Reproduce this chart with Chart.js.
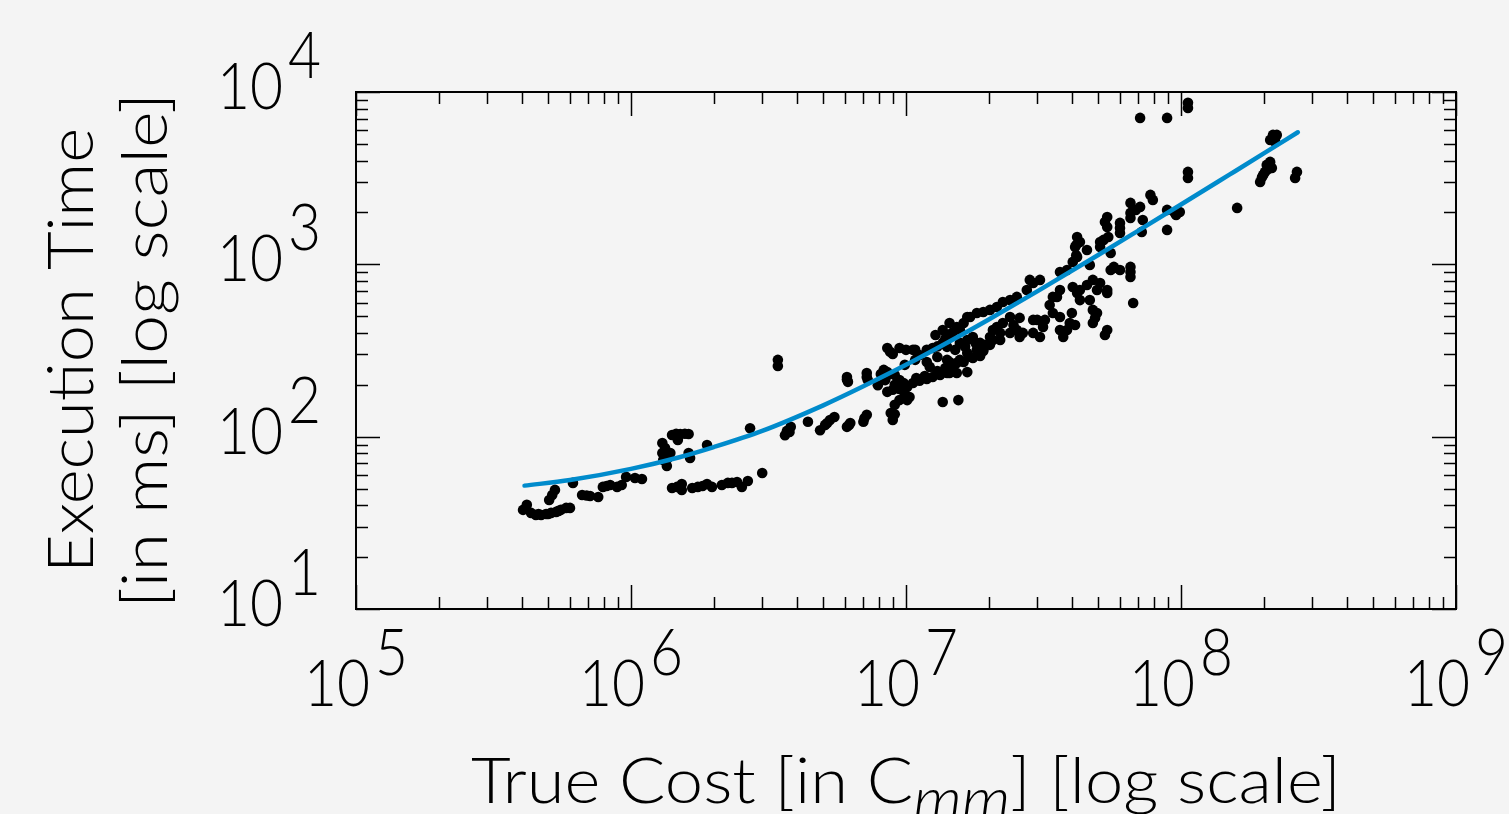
<!DOCTYPE html>
<html><head><meta charset="utf-8">
<script src="https://cdn.jsdelivr.net/npm/chart.js@4.4.1/dist/chart.umd.min.js"></script>
<style>html,body{margin:0;padding:0;background:#f4f4f4;}#wrap{width:1509px;height:814px;position:relative;}</style>
</head><body><div id="wrap"><canvas id="c" width="1509" height="814"></canvas></div>
<script>
// ---- data ----
const costValues = [
 4.05e5,4.18e5,4.33e5,4.51e5,4.71e5,4.91e5,5.12e5,5.34e5,5.56e5,5.81e5,6.0e5,5.17e5,5.29e5,5.04e5,6.15e5,
 6.64e5,7.1e5,7.6e5,7.9e5,8.4e5,8.9e5,9.25e5,9.6e5,1.034e6,1.096e6,
 1.30e6,1.30e6,1.31e6,1.35e6,1.41e6,1.51e6,1.62e6,1.39e6,1.62e6,1.64e6,1.89e6,1.48e6,
 1.41e6,1.53e6,1.53e6,1.67e6,1.75e6,1.89e6,1.97e6,2.14e6,2.25e6,2.43e6,2.53e6,2.66e6,3.0e6,
 2.71e6,3.42e6,3.42e6,3.69e6,3.81e6,3.63e6,4.40e6,4.87e6,5.08e6,5.29e6,5.49e6,6.1e6,6.27e6,7.0e6,7.2e6,8.95e6,9.1e6,
 6.1e6,6.15e6,7.2e6,7.26e6,8.55e6,8.4e6,
 8.55e6,8.95e6,9.47e6,1.08e7,1.12e7,1.19e7,1.25e7,1.36e7,1.42e7,1.67e7,
 8.55e6,8.95e6,9.47e6,1.01e7,1.06e7,1.12e7,1.19e7,1.25e7,1.33e7,1.41e7,1.53e7,1.67e7,1.01e7,1.03e7,1.36e7,1.55e7,8.8e6,9.47e6,8.3e6,8.1e6,1.44e7,
 1.19e7,1.22e7,1.41e7,1.44e7,1.53e7,1.62e7,1.75e7,1.86e7,1.91e7,1.06e7,1.41e7,1.57e7,1.75e7,1.86e7,1.91e7,2.02e7,
 1.44e7,1.47e7,1.53e7,1.62e7,1.71e7,1.81e7,1.91e7,2.02e7,2.14e7,2.25e7,2.39e7,2.53e7,2.75e7,2.90e7,3.07e7,3.63e7,3.85e7,
 2.14e7,2.25e7,2.39e7,2.39e7,2.53e7,2.66e7,2.90e7,3.0e7,3.15e7,3.07e7,3.42e7,3.63e7,3.63e7,3.73e7,4.01e7,3.94e7,3.85e7,
 3.54e7,3.63e7,4.04e7,4.29e7,4.55e7,4.78e7,5.08e7,4.95e7,5.39e7,5.55e7,5.7e7,6.55e7,6.55e7,6.7e7,4.78e7,4.78e7,5.39e7,
 2.90e7,2.82e7,3.42e7,4.19e7,2.07e7,2.59e7,1.67e7,1.91e7,1.44e7,1.67e7,5.39e7,4.95e7,
 4.19e7,4.12e7,4.19e7,4.04e7,5.08e7,5.23e7,5.39e7,5.39e7,5.44e7,5.55e7,6.0e7,6.0e7,6.55e7,6.55e7,7.1e7,7.26e7,7.74e7,7.9e7,
 8.9e7,8.9e7,9.5e7,6.55e7,7.2e7,9.6e7,9.9e7,5.7e7,6.55e7,6.0e7,4.29e7,4.66e7,5.08e7,4.55e7,
 7.1e7,8.9e7,1.06e8,1.06e8,1.06e8,1.06e8,1.60e8,2.16e8,2.23e8,2.11e8,2.20e8,2.11e8,2.05e8,1.99e8,1.94e8,2.02e8,2.64e8,2.60e8,2.14e8,
 5.17e6,3.77e6,6.21e6,7.06e6,6.1e6,7.2e6,8.5e6,1.33e6,1.36e6,1.57e6,1.46e6,
 1.0e7,8.75e6,1.30e7,1.39e7,9.1e6,9.8e6,1.09e7,1.17e7,1.30e7,1.39e7,1.49e7,1.57e7,1.71e7,1.81e7,1.95e7,2.07e7,2.20e7,2.46e7,2.59e7,
 9.1e6,9.47e6,9.9e6,1.28e7,1.36e7,1.57e7,4.16e7,4.16e7,5.29e7,4.87e7,5.29e7,2.20e8,2.07e8,1.97e8,6.85e7,
 4.61e5,5.0e5,5.45e5,6.9e5,8.15e5,1.47e6,1.82e6,2.33e6,
 9.9e6,1.08e7,1.30e7,1.51e7,1.64e7,1.79e7,2.02e7,2.20e7,3.33e7,3.2e7,4.12e7,4.29e7,4.66e7,6.0e7,9.1e6,7.9e6
];
const timeValues = [
 37.6,40.2,36.1,35.1,35.1,35.6,36.1,36.6,37.6,38.6,38.6,45.9,49.1,42.9,53.9,
 45.9,45.3,44.7,51.1,52.4,51.1,52.4,58.4,57.6,56.8,
 91.9,80.4,73.3,67.6,102.3,103.7,103.7,80.4,80.4,75.2,89.5,95.7,
 50.4,53.1,49.1,50.4,51.1,53.1,51.1,52.4,53.9,54.6,51.1,55.3,61.6,
 112,279,257,108,114,102,122,109,117,125,130,114,120,122,134,125,135,
 222,208,234,213,237,213,
 327,302,327,319,298,319,327,350,389,364,
 182,187,189,194,205,211,216,222,228,234,234,237,163,170,159,163,137,213,244,231,234,
 271,254,279,271,268,271,286,294,314,319,332,350,379,350,327,379,
 457,400,433,457,495,522,529,544,566,605,621,647,710,780,812,903,928,
 433,457,495,400,416,400,400,476,433,379,522,495,416,379,522,457,416,
 647,710,739,710,759,812,780,710,682,928,966,966,845,597,544,457,416,
 476,812,647,682,416,379,306,319,379,495,710,522,
 1442,1262,1104,1033,1262,1386,1884,1648,1442,1165,1739,1521,2272,1988,2154,1810,2528,2365,
 2069,1584,1988,1859,1542,1935,2014,953,903,1627,1349,992,1349,1212,
 7076,7076,8648,8087,3439,3173,2125,5636,5636,5272,5133,3929,3775,3303,3008,3439,3439,3173,3626,
 120,106.5,117,128,215,222,225,86,75,104,104,
 319,311,334,370,200,205,219,225,240,250,257,279,291,319,341,364,400,445,489,
 153,163,175,389,416,416,1296,1130,1760,488,389,5415,3560,3200,2070,
 35.6,35.6,37.1,45.6,51.7,51.1,51.7,53.9,
 261,279,290,319,332,350,341,364,581,476,445,620,620,928,228,199
];
const fitCost = [4.1e5,6e5,1e6,1.5e6,2e6,3e6,5e6,7e6,1e7,1.5e7,2e7,3e7,5e7,7e7,1e8,1.5e8,2e8,2.66e8];
const fitTime = [52,56,65,76,87,108,152,196,261,370,479,697,1133,1570,2223,3313,4400,5840];

const xMajorTicks = [1e5,1e6,1e7,1e8,1e9];
const xTickExponents = ['5','6','7','8','9'];
const yMajorTicks = [1e1,1e2,1e3,1e4];
const yTickExponents = ['1','2','3','4'];
const minorMultipliers = [2,3,4,5,6,7,8,9];
const tickBase = '10';
const yTitleLines = ['Execution Time','[in ms] [log scale]'];
const xTitleParts = ['True Cost [in ','C','mm','] [log scale]'];

// ---- drawing helpers ----
const FONT = 'Lato, "Open Sans", "DejaVu Sans", sans-serif';
function setFont(ctx, size, style){ ctx.font = (style||'normal') + ' 300 ' + size + 'px ' + FONT; }
function drawScaled(ctx, txt, x, y, sx){
  ctx.save(); ctx.translate(x,y); ctx.scale(sx,1);
  ctx.textAlign='left'; ctx.textBaseline='alphabetic'; ctx.fillText(txt,0,0); ctx.restore();
}
function drawPower(ctx, exp, x, baseY, align){
  setFont(ctx, 66);
  const sx = 66 / ctx.measureText(tickBase).width;
  const wb = ctx.measureText(tickBase).width*sx;
  const we = ctx.measureText(exp).width*sx;
  const gap = 5, total = wb+gap+we;
  const left = align==='center' ? x-total/2 : x-total;
  drawScaled(ctx, tickBase, left, baseY, sx);
  drawScaled(ctx, exp, left+wb+gap, baseY-31, sx);
}

const bgPlugin = {
  id:'bg',
  beforeDraw(chart){
    const c = chart.ctx; c.save(); c.fillStyle='#f4f4f4'; c.fillRect(0,0,chart.width,chart.height); c.restore();
  }
};

const decoPlugin = {
  id:'deco',
  afterDraw(chart){
    const ctx = chart.ctx;
    const {left,right,top,bottom} = chart.chartArea;
    const xs = chart.scales.x, ys = chart.scales.y;
    ctx.save();
    ctx.strokeStyle='#000'; ctx.fillStyle='#000'; ctx.lineWidth=1.5;
    ctx.beginPath();
    xMajorTicks.forEach((v,i)=>{
      const p = Math.round(xs.getPixelForValue(v))+0.5;
      ctx.moveTo(p,bottom); ctx.lineTo(p,bottom-24);
      ctx.moveTo(p,top); ctx.lineTo(p,top+24);
      if(i<xMajorTicks.length-1){
        minorMultipliers.forEach(m=>{
          const q = Math.round(xs.getPixelForValue(v*m))+0.5;
          ctx.moveTo(q,bottom); ctx.lineTo(q,bottom-12);
          ctx.moveTo(q,top); ctx.lineTo(q,top+12);
        });
      }
    });
    yMajorTicks.forEach((v,i)=>{
      const p = Math.round(ys.getPixelForValue(v))+0.5;
      ctx.moveTo(left,p); ctx.lineTo(left+24,p);
      ctx.moveTo(right,p); ctx.lineTo(right-24,p);
      if(i<yMajorTicks.length-1){
        minorMultipliers.forEach(m=>{
          const q = Math.round(ys.getPixelForValue(v*m))+0.5;
          ctx.moveTo(left,q); ctx.lineTo(left+12,q);
          ctx.moveTo(right,q); ctx.lineTo(right-12,q);
        });
      }
    });
    ctx.stroke();
    ctx.lineWidth=2;
    ctx.strokeRect(left,top,right-left,bottom-top);

    xMajorTicks.forEach((v,i)=> drawPower(ctx, xTickExponents[i], xs.getPixelForValue(v), bottom+97, 'center'));
    yMajorTicks.forEach((v,i)=> drawPower(ctx, yTickExponents[i], left-35, ys.getPixelForValue(v)+17, 'right'));

    const midY = (top+bottom)/2;
    const yTargets = [445, 515], yBase = [93, 167];
    setFont(ctx, 64);
    yTitleLines.forEach((t,i)=>{
      const w = ctx.measureText(t).width, sx = yTargets[i]/w;
      ctx.save(); ctx.translate(yBase[i], midY); ctx.rotate(-Math.PI/2); ctx.scale(sx,1);
      ctx.textAlign='center'; ctx.textBaseline='alphabetic'; ctx.fillText(t,0,0); ctx.restore();
    });

    const fonts = [[64,'normal'],[64,'normal'],[58,'italic'],[64,'normal']];
    const dy = [0,0,16,0];
    let raw = 0; const ws = [];
    xTitleParts.forEach((t,i)=>{ setFont(ctx,fonts[i][0],fonts[i][1]); const w=ctx.measureText(t).width; ws.push(w); raw+=w; });
    const sxT = 870/raw;
    let xx = (left+right)/2 - 870/2;
    xTitleParts.forEach((t,i)=>{
      setFont(ctx,fonts[i][0],fonts[i][1]);
      drawScaled(ctx, t, xx, 803+dy[i], sxT);
      xx += ws[i]*sxT;
    });
    ctx.restore();
  }
};

new Chart(document.getElementById('c'), {
  type:'scatter',
  data:{datasets:[
    {type:'line', data: fitCost.map((c,i)=>({x:c,y:fitTime[i]})), borderColor:'#008bcc', borderWidth:4.5,
     pointRadius:0, fill:false, cubicInterpolationMode:'monotone', borderCapStyle:'round', order:0},
    {type:'scatter', data: costValues.map((c,i)=>({x:c,y:timeValues[i]})), backgroundColor:'#000',
     borderWidth:0, pointRadius:5.3, order:1}
  ]},
  options:{
    responsive:false, animation:false, devicePixelRatio:1, events:[],
    layout:{padding:{left:356,top:92,right:53,bottom:205}},
    plugins:{legend:{display:false},tooltip:{enabled:false},title:{display:false}},
    scales:{
      x:{type:'logarithmic',min:1e5,max:1e9,display:false},
      y:{type:'logarithmic',min:10,max:1e4,display:false}
    }
  },
  plugins:[bgPlugin, decoPlugin]
});
</script></body></html>
